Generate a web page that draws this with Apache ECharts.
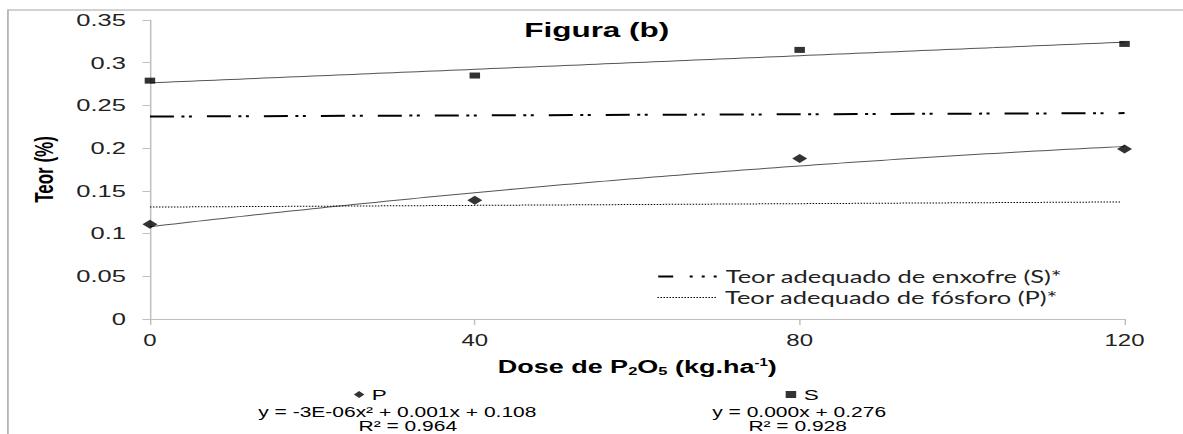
<!DOCTYPE html>
<html>
<head>
<meta charset="utf-8">
<script src="https://cdn.jsdelivr.net/npm/echarts@6/dist/echarts.min.js"></script>
<style>
  html, body { margin: 0; padding: 0; background: #fff; overflow: hidden; }
  #chart { width: 789px; height: 434px; transform: scaleX(1.49937); transform-origin: 0 0; }
</style>
</head>
<body>
<div id="chart"></div>
<script>
// ---- data ----
const doses = [0, 40, 80, 120];                  // Dose de P2O5 (kg/ha)
const teorP = [0.111, 0.139, 0.188, 0.199];      // P (%)
const teorS = [0.279, 0.285, 0.315, 0.322];      // S (%)
const refDoses = [0, 120];
const refS = [0.237, 0.241];                     // Teor adequado de enxofre (S)*
const refP = [0.131, 0.137];                     // Teor adequado de fósforo (P)*
const xTicks = [0, 40, 80, 120];
const eqP = ['y = -3E-06x² + 0.001x + 0.108', 'R² = 0.964'];
const eqS = ['y = 0.000x + 0.276', 'R² = 0.928'];
const nameRefS = 'Teor adequado de enxofre (S)*';
const nameRefP = 'Teor adequado de fósforo (P)*';

// least squares polynomial fit (like the spreadsheet trendlines)
function polyfit(xs, ys, deg) {
  const n = deg + 1;
  const A = [], b = [];
  for (let i = 0; i < n; i++) {
    A.push([]);
    for (let j = 0; j < n; j++) A[i].push(xs.reduce((s, x) => s + Math.pow(x, i + j), 0));
    b.push(xs.reduce((s, x, k) => s + Math.pow(x, i) * ys[k], 0));
  }
  for (let c = 0; c < n; c++) {
    let p = c;
    for (let r = c + 1; r < n; r++) if (Math.abs(A[r][c]) > Math.abs(A[p][c])) p = r;
    [A[c], A[p]] = [A[p], A[c]]; [b[c], b[p]] = [b[p], b[c]];
    for (let r = 0; r < n; r++) {
      if (r === c) continue;
      const f = A[r][c] / A[c][c];
      for (let k = c; k < n; k++) A[r][k] -= f * A[c][k];
      b[r] -= f * b[c];
    }
  }
  return b.map((v, i) => v / A[i][i]);
}
function trendPoints(coef) {
  const pts = [];
  const x0 = doses[0], x1 = doses[doses.length - 1];
  for (let x = x0; x <= x1; x += 1) {
    pts.push([x, coef.reduce((s, c, i) => s + c * Math.pow(x, i), 0)]);
  }
  return pts;
}
const fitP = polyfit(doses, teorP, 2);
const fitS = polyfit(doses, teorS, 1);

const FONT = 'Liberation Sans';
const chart = echarts.init(document.getElementById('chart'), null, { renderer: 'svg' });

const refLegendText = { fontFamily: 'Lato', fontSize: 17, color: '#222' };
const eqStyle = { font: '14px "Liberation Sans"', fill: '#000', align: 'center', verticalAlign: 'middle', lineHeight: 14 };

chart.setOption({
  animation: false,
  backgroundColor: '#fff',
  title: {
    text: 'Figura (b)', left: 398, textAlign: 'center', top: 19, padding: 0,
    textStyle: { fontFamily: FONT, fontSize: 21, fontWeight: 'bold', color: '#000' }
  },
  grid: { left: 100, right: 39, top: 20, bottom: 115, containLabel: false },
  xAxis: {
    type: 'value', min: 0, max: 120, interval: 40,
    axisLine: { lineStyle: { color: '#bfbfbf', width: 1 } },
    axisTick: { show: true, inside: false, length: 6, lineStyle: { color: '#bfbfbf' } },
    splitLine: { show: false },
    axisLabel: { margin: 14, fontFamily: FONT, fontSize: 16, color: '#222',
      formatter: v => xTicks.includes(v) ? String(v) : '' },
    name: 'Dose de P{sub|2}O{sub|5} (kg.ha{sup|-1})',
    nameLocation: 'middle', nameGap: 38,
    nameTextStyle: {
      fontFamily: FONT, fontSize: 18, fontWeight: 'bold', color: '#000', lineHeight: 20,
      rich: {
        sub: { fontFamily: FONT, fontSize: 11, fontWeight: 'bold', color: '#000', verticalAlign: 'bottom', lineHeight: 20 },
        sup: { fontFamily: FONT, fontSize: 10, fontWeight: 'bold', color: '#000', verticalAlign: 'top', lineHeight: 20 }
      }
    }
  },
  yAxis: {
    type: 'value', min: 0, max: 0.35, interval: 0.05,
    axisLine: { show: true, lineStyle: { color: '#bfbfbf', width: 1 } },
    axisTick: { show: true, inside: false, length: 5, lineStyle: { color: '#bfbfbf' } },
    splitLine: { show: false },
    axisLabel: { margin: 16, fontFamily: FONT, fontSize: 17, color: '#222',
      formatter: v => String(+v.toFixed(2)) },
    name: 'Teor (%)', nameLocation: 'middle', nameGap: 62,
    nameTextStyle: { fontFamily: FONT, fontSize: 17, fontWeight: 'bold', color: '#000' }
  },
  legend: [
    { data: [nameRefS], left: 438, top: 268, padding: 0, itemWidth: 40, itemHeight: 14,
      selectedMode: false, textStyle: refLegendText,
      itemStyle: { opacity: 0 },
      lineStyle: { color: '#000', width: 2, type: [10, 11, 2, 6, 2, 6, 2, 1] } },
    { data: [nameRefP], left: 438, top: 289, padding: 0, itemWidth: 40, itemHeight: 14,
      selectedMode: false, textStyle: refLegendText,
      itemStyle: { opacity: 0 },
      lineStyle: { color: '#000', width: 1, type: [1, 1] } },
    { data: ['P'], left: 236, top: 387, padding: 0, itemWidth: 7, itemHeight: 7,
      selectedMode: false, textStyle: { fontFamily: FONT, fontSize: 15, color: '#000' } },
    { data: ['S'], left: 524, top: 387, padding: 0, itemWidth: 7, itemHeight: 7,
      selectedMode: false, textStyle: { fontFamily: FONT, fontSize: 15, color: '#000' } }
  ],
  series: [
    { name: 'P trend', type: 'line', data: trendPoints(fitP), symbol: 'none', smooth: false,
      lineStyle: { color: '#555', width: 1 }, z: 2, silent: true },
    { name: 'S trend', type: 'line', data: trendPoints(fitS), symbol: 'none',
      lineStyle: { color: '#555', width: 1 }, z: 2, silent: true },
    { name: nameRefS, type: 'line', data: refDoses.map((x, i) => [x, refS[i]]), symbol: 'none',
      itemStyle: { color: '#000' },
      lineStyle: { color: '#000', width: 2, type: [16, 5, 2, 3, 2, 10] }, z: 3 },
    { name: nameRefP, type: 'line', data: [[refDoses[0], refP[0]], [119.5, refP[1]]], symbol: 'none',
      itemStyle: { color: '#000' },
      lineStyle: { color: '#000', width: 1, type: [1, 1] }, z: 3 },
    { name: 'P', type: 'scatter', data: doses.map((x, i) => [x, teorP[i]]),
      symbol: 'diamond', symbolSize: [10, 9], itemStyle: { color: '#000' }, z: 5 },
    { name: 'S', type: 'scatter', data: doses.map((x, i) => [x, teorS[i]]),
      symbol: 'rect', symbolSize: [7, 6], itemStyle: { color: '#000' }, z: 5 }
  ],
  graphic: [
    { type: 'rect', silent: true, z: -10, shape: { x: 5.3, y: 10, width: 1000, height: 800 },
      style: { fill: 'none', stroke: '#a6a6a6', lineWidth: 1 } },
    { type: 'text', x: 265, y: 412, silent: true, style: Object.assign({ text: eqP[0] }, eqStyle) },
    { type: 'text', x: 272, y: 426, silent: true, style: Object.assign({ text: eqP[1] }, eqStyle) },
    { type: 'text', x: 533, y: 412, silent: true, style: Object.assign({ text: eqS[0] }, eqStyle) },
    { type: 'text', x: 532, y: 426, silent: true, style: Object.assign({ text: eqS[1] }, eqStyle) }
  ]
});
</script>
</body>
</html>
